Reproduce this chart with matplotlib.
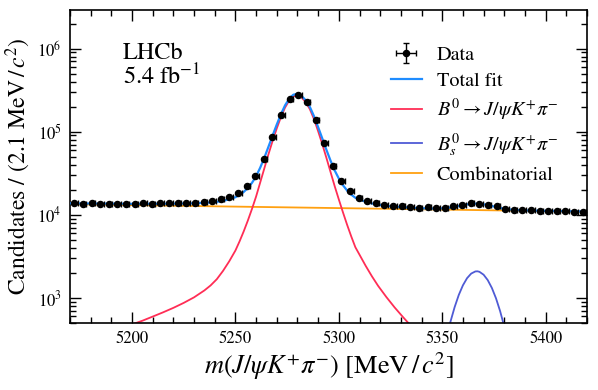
import numpy as np
import matplotlib
matplotlib.use("Agg")
import matplotlib.pyplot as plt
from matplotlib.ticker import MultipleLocator, LogLocator, NullFormatter

# ---------------- data ----------------
mass_lo, mass_hi, n_bins = 5170.0, 5420.0, 60

data_counts = [13800, 13600, 13800, 13600, 13600, 13600, 13300, 13600, 13700, 13500,
               13900, 13700, 13800, 13700, 13800, 14200, 14600, 15400, 16300, 18200,
               21900, 29500, 46800, 86000, 158000, 245000, 279000, 225000, 137000, 73000,
               39000, 25400, 19100, 15800, 14500, 13800, 13200, 12700, 12600, 12400,
               12100, 12400, 12100, 12100, 12600, 13200, 13800, 13600, 13200, 12600,
               11600, 11500, 11300, 11300, 11100, 11000, 11000, 11000, 10700, 10700]

fit_mass = [5170, 5180, 5190, 5200, 5205, 5210, 5215, 5220, 5225, 5230, 5235,
            5238, 5241, 5244, 5247,
            5250, 5252, 5254, 5256, 5258, 5260, 5262, 5264, 5266, 5268, 5270,
            5272, 5274, 5276, 5278, 5280, 5282, 5284, 5286, 5288, 5290, 5292,
            5294, 5296, 5298, 5300, 5302, 5304, 5306, 5308, 5310,
            5313, 5316, 5319, 5323, 5327, 5331, 5335, 5340, 5345, 5350,
            5354, 5356, 5358, 5360, 5362, 5364, 5366, 5368, 5370, 5372, 5374, 5376,
            5378, 5380,
            5385, 5390, 5400, 5410, 5420]

fit_total = [13730, 13660, 13600, 13552, 13549, 13561, 13581, 13617, 13676, 13768, 13930,
             14081, 14316, 14718, 15328,
             16258, 17309, 18812, 20992, 24211, 29040, 36970, 48710, 66079, 89978, 121938,
             161918, 207297, 249377, 278357, 285737, 269217, 238696, 198376, 153456, 113336, 82916,
             60496, 44776, 34157, 27337, 22717, 19587, 17478, 16028, 15249,
             14335, 13699, 13246, 12834, 12539, 12322, 12151, 11985, 11873, 11964,
             12232, 12459, 12740, 13033, 13314, 13525, 13620, 13571, 13384, 13096, 12753, 12400,
             12079, 11816,
             11421, 11281, 11146, 11045, 10948]

fit_b0 = [330, 370, 420, 480, 531, 596, 670, 759, 871, 1016, 1230,
          1413, 1679, 2113, 2754,
          3715, 4786, 6310, 8511, 11750, 16600, 24550, 36310, 53700, 77620, 109600,
          149600, 195000, 237100, 266100, 273500, 257000, 226500, 186200, 141300, 101200, 70800,
          48400, 32700, 22100, 15300, 10700, 7590, 5500, 4070, 3311,
          2427, 1820, 1396, 1023, 767, 589, 457, 339, 275, 225,
          200, 190, 180, 160, 150, 145, 140, 130, 120, 115, 110, 105,
          100, 95,
          85, 75, 62, 52, 45]

bs_mass = [5352, 5354, 5356, 5358, 5360, 5362, 5364, 5366, 5367, 5368, 5370, 5372,
           5374, 5376, 5378, 5380, 5382]
fit_bs = [322, 519, 775, 1085, 1417, 1727, 1962, 2081, 2090, 2060, 1902, 1638,
          1318, 989, 692, 452, 273]

comb_mass = [5170, 5420]
fit_comb = [13400, 10900]

legend_labels = ["Data", "Total fit", r"$B^0 \to J/\psi K^{+}\pi^{-}$",
                 r"$B^0_s \to J/\psi K^{+}\pi^{-}$", "Combinatorial"]

# ---------------- style ----------------
plt.rcParams["font.family"] = ["STIXGeneral", "Liberation Serif", "DejaVu Serif"]
plt.rcParams["mathtext.fontset"] = "stix"

c_total = "#1f8cff"
c_b0 = "#ff2d55"
c_bs = "#4f5bd5"
c_comb = "#ffa010"

fig = plt.figure(figsize=(5.98, 3.90), dpi=100)
ax = fig.add_axes([0.117, 0.172, 0.8646, 0.802])

edges = np.linspace(mass_lo, mass_hi, n_bins + 1)
centers = 0.5 * (edges[:-1] + edges[1:])
counts = np.array(data_counts, dtype=float)

l_comb, = ax.plot(comb_mass, fit_comb, color=c_comb, lw=1.3, zorder=2)
l_b0, = ax.plot(fit_mass, fit_b0, color=c_b0, lw=1.3, zorder=2)
l_bs, = ax.plot(bs_mass, fit_bs, color=c_bs, lw=1.3, zorder=2)
l_tot, = ax.plot(fit_mass, fit_total, color=c_total, lw=1.6, zorder=3)

xr = 1.7
eb = ax.errorbar(centers, counts, yerr=np.sqrt(counts),
                 xerr=[np.zeros_like(centers), np.full_like(centers, xr)],
                 fmt="o", color="black", ms=4.4, elinewidth=1.0, capsize=2.0,
                 capthick=1.0, zorder=4)

ax.set_yscale("log")
ax.set_xlim(mass_lo, mass_hi)
ax.set_ylim(500, 2.9e6)

ax.xaxis.set_major_locator(MultipleLocator(50))
ax.xaxis.set_minor_locator(MultipleLocator(10))
ax.yaxis.set_major_locator(LogLocator(base=10, numticks=10))
ax.yaxis.set_minor_locator(LogLocator(base=10, subs=np.arange(2, 10), numticks=20))
ax.yaxis.set_minor_formatter(NullFormatter())

ax.tick_params(which="both", direction="in", top=True, right=True, width=1.0)
ax.tick_params(which="major", length=8, labelsize=12, pad=6)
ax.tick_params(which="minor", length=4.5)
for s in ax.spines.values():
    s.set_linewidth(1.2)

ax.set_xlabel(r"$m(J/\psi K^{+}\pi^{-})$ [MeV$\,/\,c^{2}$]", fontsize=19, labelpad=2)
ax.set_ylabel(r"Candidates / (2.1 MeV$\,/\,c^{2}$)", fontsize=17, labelpad=3)

ax.text(0.103, 0.897, "LHCb\n" + r"5.4 fb$^{-1}$", transform=ax.transAxes,
        fontsize=17.5, va="top", ha="left", linespacing=1.0)

leg = ax.legend([eb, l_tot, l_b0, l_bs, l_comb], legend_labels,
                loc="upper left", bbox_to_anchor=(0.620, 0.886), frameon=False,
                fontsize=14.5, handlelength=1.55, handletextpad=0.75,
                labelspacing=0.38, borderaxespad=0.0, borderpad=0.0)

fig.savefig("out.png", dpi=100)
